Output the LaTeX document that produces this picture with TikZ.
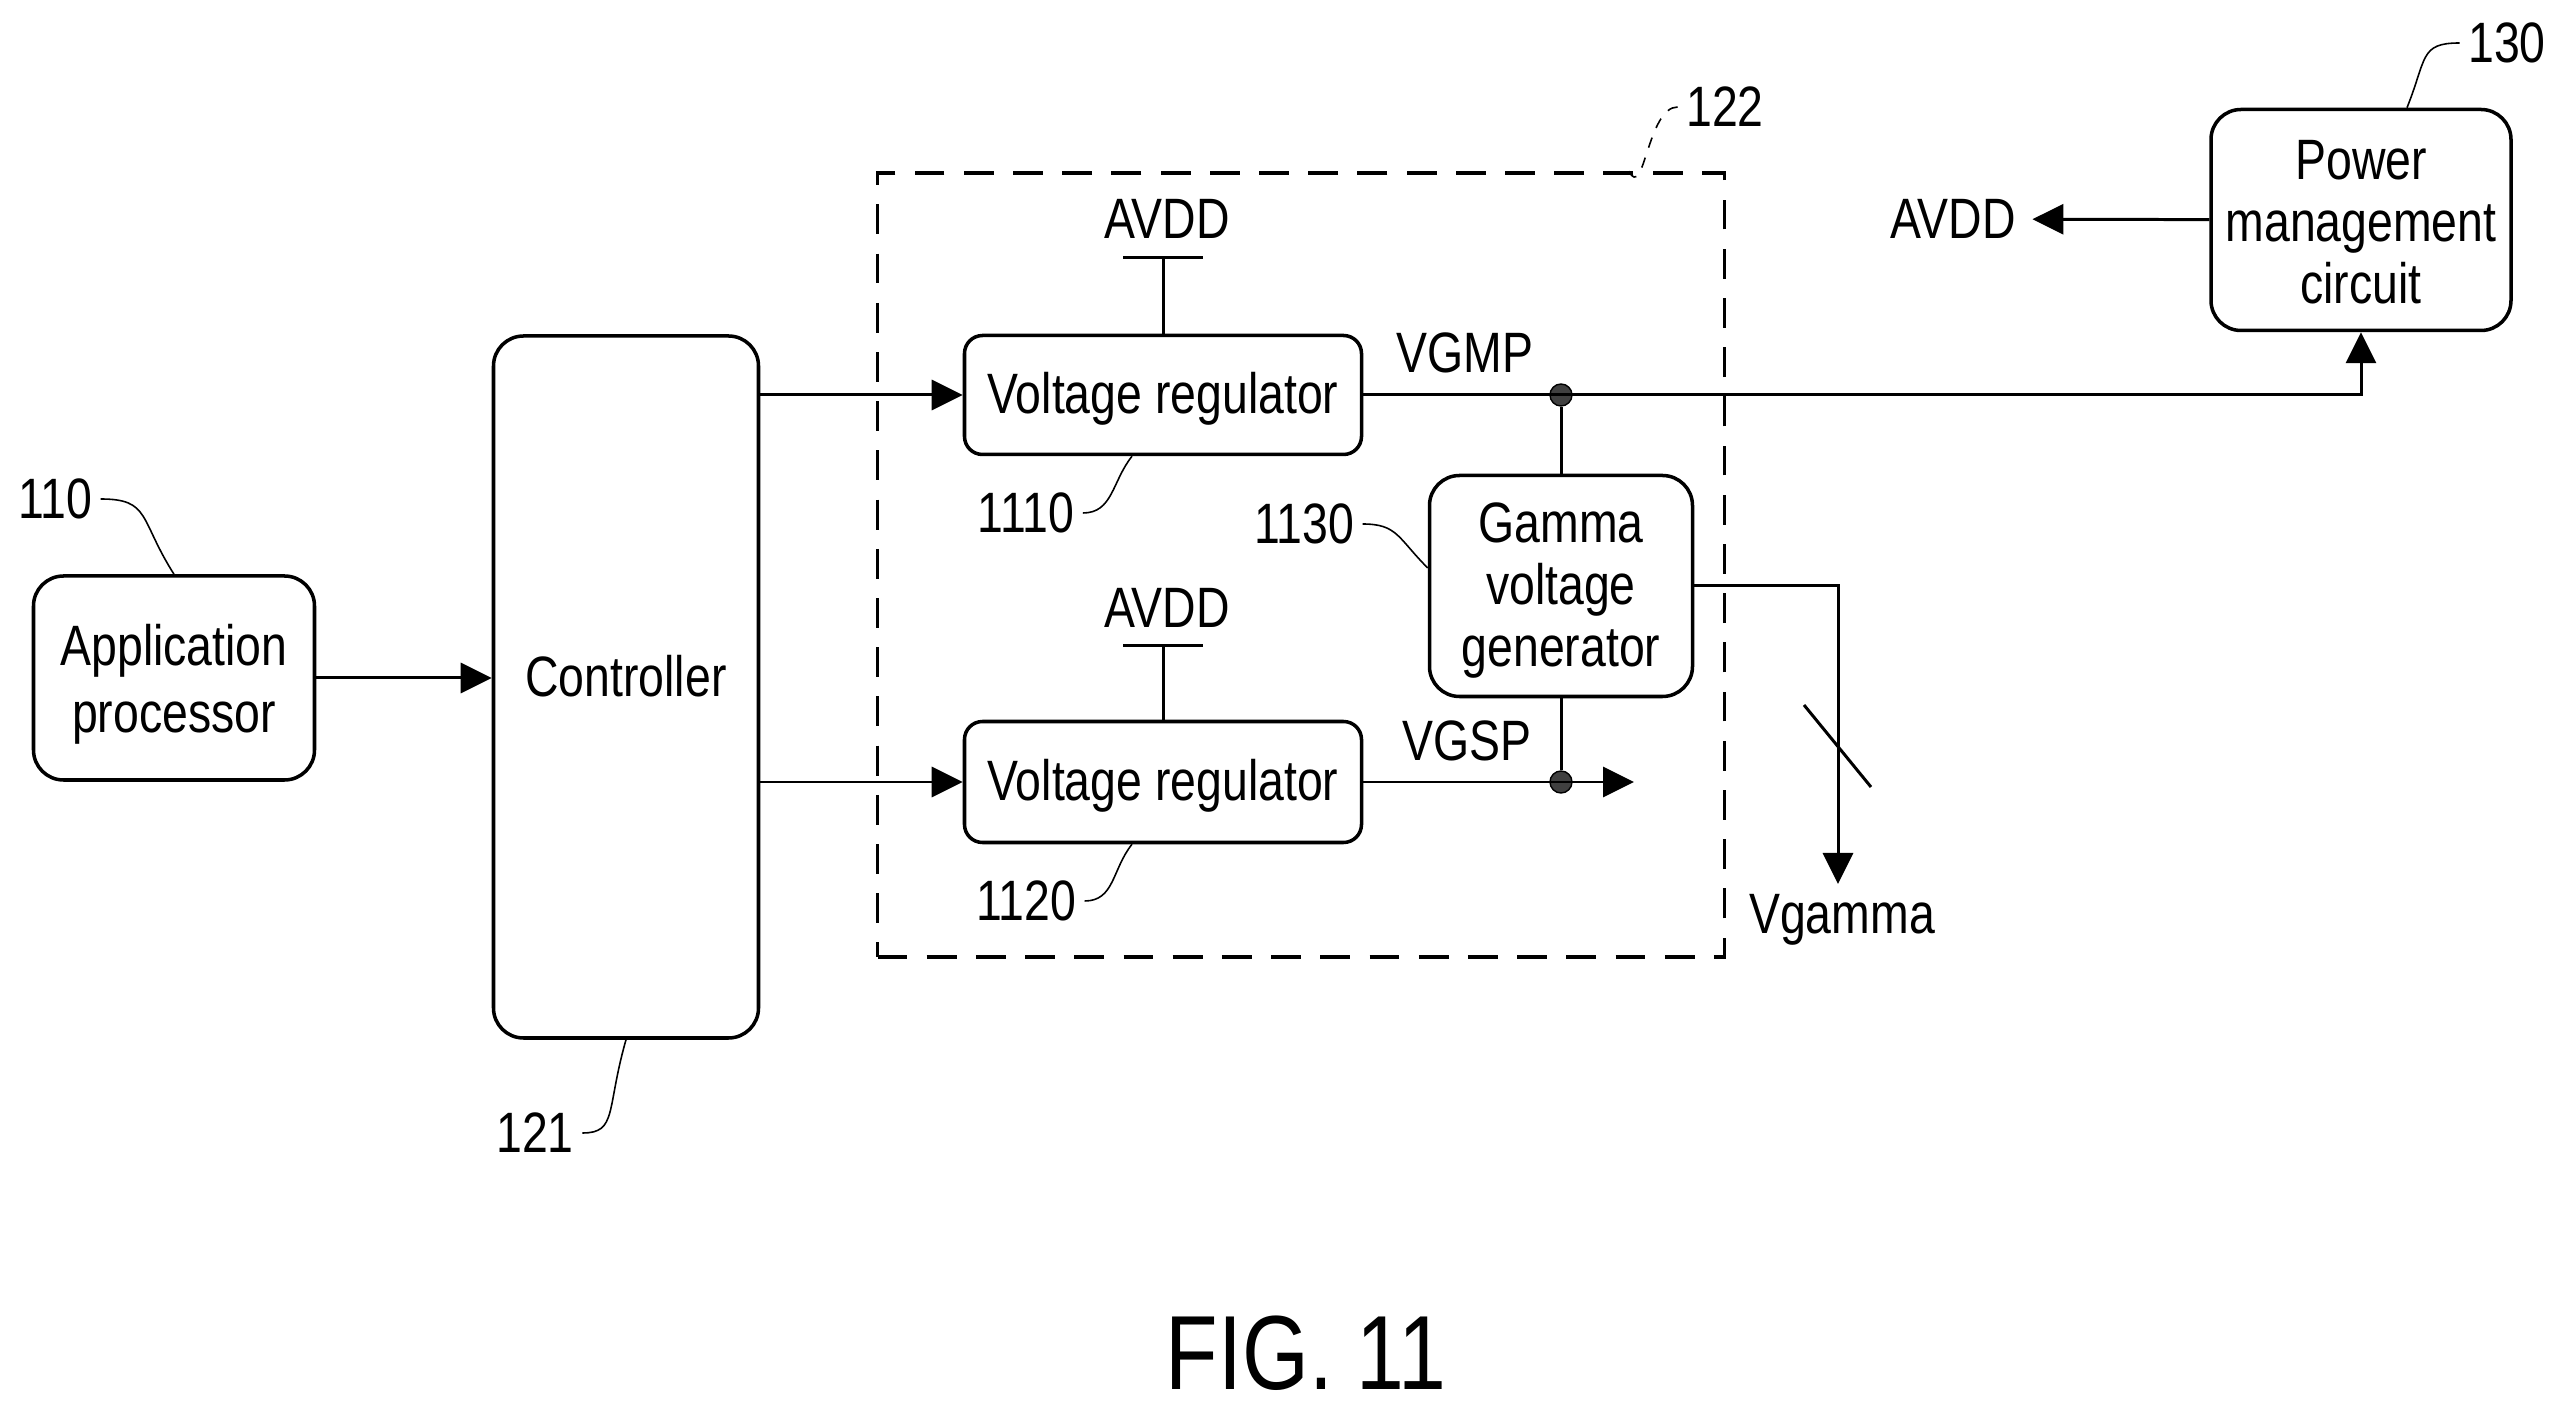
\documentclass[tikz,border=0pt]{standalone}
\usepackage{fontspec}
\setmainfont[FakeStretch=0.815]{Liberation Sans}
\usepackage{tikz}
\usetikzlibrary{arrows.meta, shapes, calc}

\begin{document}
\begin{tikzpicture}

    \useasboundingbox (0, 0) rectangle (25.62, 14.11);

    % Text
    \tikzset{txt/.style={inner sep = 1.6mm, font = \fontsize{16.2}{17.7}\selectfont, align = center}}

    % Blocks
    \tikzset{blk/.style={txt, draw, line width = 1pt, rounded corners = 3mm, inner sep = 0mm}}
    \tikzset{vreg/.style={blk, rounded corners = 1.8mm, minimum width = 3.97cm}}
    \tikzset{dashbox/.style={draw, line width = 1pt, dash pattern = on 8.5pt off 5.5pt, inner sep = 0mm, minimum width = 8.47cm, minimum height = 7.84cm}}
    \tikzset{dotn/.style={circle, fill = black!75, draw = black, inner sep = 0mm, minimum size = 0.22cm}}

    % Lines
    \tikzset{wire/.style={draw, line width = 0.85pt}}
    \tikzset{awire/.style={wire, -{Triangle[length = 3.1mm, width = 3mm]}}}
    \tikzset{leader/.style={draw, line width = 0.45pt}}

    % Blocks and boxes
    \node (gvbox) [dashbox] at (13.01, 8.46) {};
    \node (ap) [blk, minimum width = 2.81cm, minimum height = 2.04cm] at (1.74, 7.33) {\rule{0pt}{5.4mm}Application\\[0.55mm]processor};
    \node (ctrl) [blk, minimum width = 2.65cm, minimum height = 7.02cm] at (6.26, 7.24) {};
    \node (ctrlt) [txt] at (6.26, 7.35) {Controller};
    \node (vr1) [vreg, minimum height = 1.19cm] at (11.63, 10.16) {\rule{0pt}{4.8mm}Voltage regulator};
    \node (vr2) [vreg, minimum height = 1.21cm] at (11.63, 6.29) {\rule{0pt}{4.8mm}Voltage regulator};
    \node (gamma) [blk, minimum width = 2.63cm, minimum height = 2.21cm] at (15.61, 8.25) {\rule{0pt}{4.9mm}Gamma\\voltage\\generator};
    \node (pm) [blk, minimum width = 3.00cm, minimum height = 2.21cm] at (23.61, 11.91) {\rule{0pt}{4.4mm}Power\\management\\circuit};

    % Signal names
    \node (avdd1) [txt] at (11.67, 11.92) {AVDD};
    \node (avdd2) [txt] at (11.67, 8.03) {AVDD};
    \node (avdd3) [txt] at (19.53, 11.92) {AVDD};
    \node (vgmp) [txt] at (14.65, 10.58) {VGMP};
    \node (vgsp) [txt] at (14.67, 6.70) {VGSP};
    \node (vgam) [txt] at (18.42, 4.91) {Vgamma};

    % Reference numbers
    \node (l110) [txt, inner sep = 0mm] at (0.55, 9.12) {110};
    \node (l121) [txt, inner sep = 0mm] at (5.35, 2.78) {121};
    \node (l122) [txt, inner sep = 0mm] at (17.25, 13.04) {122};
    \node (l130) [txt, inner sep = 0mm] at (25.07, 13.68) {130};
    \node (l1110) [txt, inner sep = 0mm] at (10.26, 8.98) {1110};
    \node (l1120) [txt, inner sep = 0mm] at (10.26, 5.10) {1120};
    \node (l1130) [txt, inner sep = 0mm] at (13.04, 8.87) {1130};

    % Figure title
    \node (fig) [inner sep = 0mm, font = \fontsize{30}{31}\selectfont] at (13.06, 0.58) {FIG. 11};

    % Junctions and free ends
    \node (dgmp) [dotn] at (15.61, 10.16) {};
    \node (dgsp) [dotn] at (15.61, 6.29) {};
    \coordinate (bar1) at (11.63, 11.53);
    \coordinate (bar2) at (11.63, 7.65);
    \coordinate (gspend) at (16.34, 6.29);
    \coordinate (vout) at (18.38, 5.27);
    \coordinate (sla) at (18.04, 7.06);
    \coordinate (slb) at (18.71, 6.24);

    % Connections
    \path[awire] (ap) -- (ctrl.west |- ap);
    \path[awire] (ctrl.east |- vr1) -- (vr1);
    \path[awire] (ctrl.east |- vr2) -- (vr2);
    \path[wire] (vr1.north) -- (bar1);
    \path[wire] ([xshift = -4mm]bar1) -- ([xshift = 4mm]bar1);
    \path[wire] (vr2.north) -- (bar2);
    \path[wire] ([xshift = -4mm]bar2) -- ([xshift = 4mm]bar2);
    \path[awire] (vr1) -| (pm);
    \path[awire] (vr2) -- (gspend);
    \path[wire] (dgmp) -- (gamma);
    \path[wire] (gamma) -- (dgsp);
    \path[awire] (gamma.east) -| (vout);
    \path[wire] (sla) -- (slb);
    \path[awire] (pm) -- (avdd3);

    % Leaders
    \path[leader] (l110.east) ++(0.08, 0) .. controls +(0.5, 0) and +(-0.35, 0.55) .. (ap.north);
    \path[leader] (l121.east) ++(0.08, 0) .. controls +(0.35, 0) and +(-0.2, -0.7) .. (ctrl.south);
    \path[leader] (l1110.east) ++(0.08, 0) .. controls +(0.3, 0) and +(-0.2, -0.25) .. ([xshift = -3.1mm]vr1.south);
    \path[leader] (l1120.east) ++(0.08, 0) .. controls +(0.3, 0) and +(-0.2, -0.25) .. ([xshift = -3.1mm]vr2.south);
    \path[leader] (l1130.east) ++(0.08, 0) .. controls +(0.35, 0) and +(-0.3, 0.3) .. ([yshift = 1.8mm]gamma.west);
    \path[leader, dashed] (l122.west) ++(-0.08, 0) .. controls +(-0.3, 0) and +(0.15, -0.3) .. ([xshift = 32.8mm]gvbox.north);
    \path[leader] (l130.west) ++(-0.08, 0) .. controls +(-0.4, 0) and +(0.2, 0.5) .. ([xshift = 4.6mm]pm.north);

\end{tikzpicture}
\end{document}
